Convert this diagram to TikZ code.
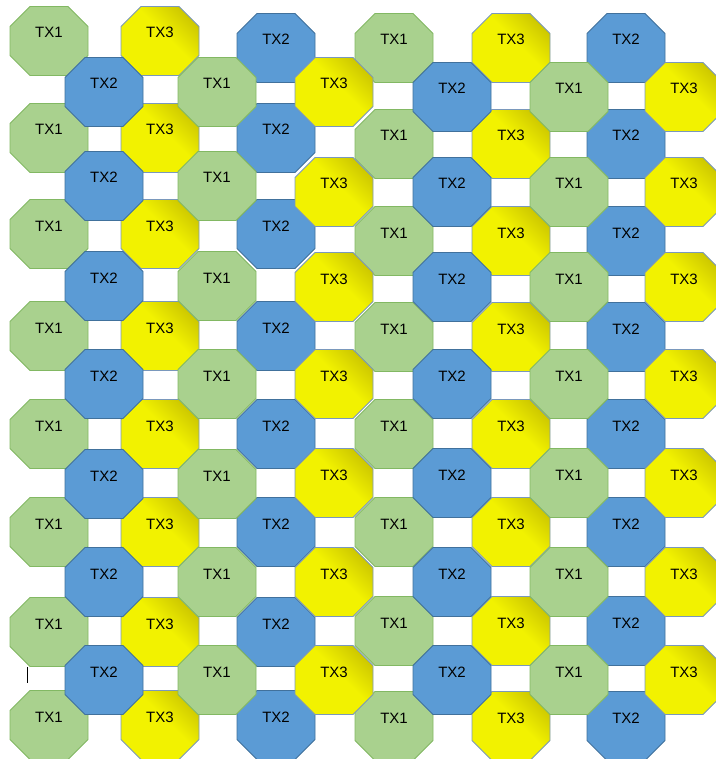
\documentclass[tikz,border=0pt]{standalone}
\usepackage{fontspec}
\setmainfont{Liberation Sans}
\definecolor{cellgreen}{HTML}{A9D18E}
\definecolor{edgegreen}{HTML}{82B863}
\definecolor{cellblue}{HTML}{5B9BD5}
\definecolor{edgeblue}{HTML}{41719C}
\definecolor{cellyellow}{HTML}{F2F200}
\definecolor{darkyellow}{HTML}{A09400}
\definecolor{edgeyellow}{HTML}{7A98BC}
\pgfdeclareverticalshading{txshade}{100bp}{color(0bp)=(cellyellow); color(55bp)=(cellyellow); color(100bp)=(darkyellow)}

\begin{document}
\begin{tikzpicture}[
    x=1pt, y=-1pt,
    cell/.style={rectangle, minimum width=80pt, minimum height=71pt, inner sep=0pt,
      text height=11pt, text depth=17pt, font=\fontsize{15}{18}\selectfont,
      path picture={\path[line width=0.8pt, #1] (path picture bounding box.center) ++(-19pt,34.5pt)
        -- ++(38pt,0pt) -- ++(20pt,-20pt) -- ++(0pt,-29pt) -- ++(-20pt,-20pt)
        -- ++(-38pt,0pt) -- ++(-20pt,20pt) -- ++(0pt,29pt) -- cycle;}},
    tx1/.style={cell={fill=cellgreen, draw=edgegreen}},
    tx2/.style={cell={fill=cellblue, draw=edgeblue}},
    tx3/.style={cell={shade, shading=txshade, shading angle=-45, draw=edgeyellow}}
]
\useasboundingbox (0,0) rectangle (715,759);
% odd rows
\foreach \r/\yl/\yr/\s in {1/41/48/5, 3/138/144/6, 5/234/241/6, 7/336/337/6, 9/434/434/6, 11/532/532/6, 13/632/631/6, 15/725/726/6}{
  \foreach \c/\x in {1/49, 3/160, 5/276, 7/394, 9/511, 11/626}{
    \pgfmathtruncatemacro\t{mod(\c-1,3)+1}
    \pgfmathsetmacro\y{ifthenelse(\c<\s,\yl,\yr)}
    \node[tx\t] (tx-\r-\c) at (\x,\y) {TX\t};
  }
}
% even rows
\foreach \r/\yl/\yr/\s in {2/92/97/7, 4/186/192/6, 6/286/287/6, 8/384/384/6, 10/484/483/6, 12/582/582/6, 14/680/680/6}{
  \foreach \c/\x in {2/104, 4/217, 6/334, 8/452, 10/569, 12/684}{
    \pgfmathtruncatemacro\t{mod(\c-1,3)+1}
    \pgfmathsetmacro\y{ifthenelse(\c<\s,\yl,\yr)}
    \node[tx\t] (tx-\r-\c) at (\x,\y) {TX\t};
  }
}
\draw[line width=0.8pt] (27,667) -- (27,683);
\end{tikzpicture}
\end{document}
